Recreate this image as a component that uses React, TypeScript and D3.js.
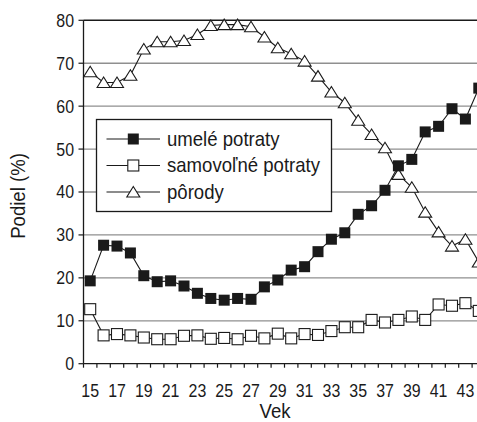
import React from "react";
import * as d3 from "d3";

const ages = d3.range(15, 45);
const tickLabels = [15, 17, 19, 21, 23, 25, 27, 29, 31, 33, 35, 37, 39, 41, 43];
const yTicks = [0, 10, 20, 30, 40, 50, 60, 70, 80];

const umele = [19.3, 27.6, 27.4, 25.8, 20.5, 19.1, 19.3, 18.1, 16.4, 15.2, 14.8, 15.2, 15.0, 17.9, 19.5, 21.8, 22.6, 26.1, 29.0, 30.5, 34.8, 36.8, 40.4, 46.1, 47.6, 54.0, 55.3, 59.4, 57.0, 64.2];
const samovolne = [12.7, 6.6, 6.9, 6.6, 6.1, 5.7, 5.7, 6.5, 6.6, 5.8, 6.0, 5.7, 6.5, 5.9, 7.0, 5.9, 6.9, 6.7, 7.6, 8.5, 8.5, 10.2, 9.6, 10.2, 11.0, 10.2, 13.8, 13.5, 14.1, 12.3];
const porody = [68.0, 65.5, 65.5, 67.2, 73.3, 75.0, 75.0, 75.3, 76.7, 78.8, 79.0, 79.0, 78.5, 76.1, 73.6, 72.2, 70.5, 67.0, 63.3, 60.8, 56.7, 53.4, 50.3, 44.1, 41.1, 35.3, 30.7, 27.4, 29.0, 23.7];

const legendLabels = ["umelé potraty", "samovoľné potraty", "pôrody"];

const W = 477;
const H = 422;
const left = 83.5;
const step = 13.4;
const FONT = "'Liberation Sans', Arial, sans-serif";
const INK = "#1a1a1a";
const SX = 0.885;

const x = d3.scaleBand<number>().domain(ages).range([left, left + ages.length * step]).paddingInner(0).paddingOuter(0);
const y = d3.scaleLinear().domain([0, 80]).range([363.7, 20.3]);
const cx = (a: number) => (x(a) as number) + x.bandwidth() / 2;

const line = d3.line<number>().x((_, i) => cx(ages[i])).y((v) => y(v));

function T({ x: tx, y: ty, size, anchor, rotate, dy, children }: any) {
  const tr = `translate(${tx},${ty})${rotate ? ` rotate(${rotate})` : ""} scale(${SX},1)`;
  return (
    <text transform={tr} dy={dy} textAnchor={anchor || "start"} fontSize={size} fill={INK}>
      {children}
    </text>
  );
}

function Marker({ kind, px, py }: { kind: string; px: number; py: number }) {
  if (kind === "filled") {
    return <rect x={px - 5.5} y={py - 5.5} width={11} height={11} fill={INK} />;
  }
  if (kind === "open") {
    return <rect x={px - 5.5} y={py - 5.5} width={11} height={11} fill="#fff" stroke={INK} strokeWidth={1.1} />;
  }
  const tri = d3.path();
  tri.moveTo(px, py - 5.5);
  tri.lineTo(px + 6.5, py + 5);
  tri.lineTo(px - 6.5, py + 5);
  tri.closePath();
  return <path d={tri.toString()} fill="#fff" stroke={INK} strokeWidth={1.1} />;
}

function Series({ data, kind }: { data: number[]; kind: string }) {
  return (
    <g>
      <path d={line(data) || ""} fill="none" stroke={INK} strokeWidth={1.1} />
      {data.map((v, i) => (
        <Marker key={i} kind={kind} px={cx(ages[i])} py={y(v)} />
      ))}
    </g>
  );
}

export default function App() {
  const legendRows = [139, 165.5, 192];
  const kinds = ["filled", "open", "tri"];
  const xEnd = left + ages.length * step;
  return (
    <svg width={W} height={H} style={{ position: "absolute", left: 0, top: 0, background: "#fff" }} fontFamily={FONT}>
      <rect width={W} height={H} fill="#fff" />
      {yTicks.filter((t) => t > 0 && t < 80).map((t) => (
        <line key={t} x1={left} x2={xEnd} y1={y(t)} y2={y(t)} stroke="#8f8f8f" strokeWidth={1.3} />
      ))}
      <line x1={left} x2={xEnd} y1={y(80)} y2={y(80)} stroke={INK} strokeWidth={1.5} />
      <line x1={left} x2={left} y1={y(80)} y2={y(0)} stroke={INK} strokeWidth={1.3} />
      <line x1={left} x2={xEnd} y1={y(0)} y2={y(0)} stroke={INK} strokeWidth={1.3} />
      {yTicks.map((t) => (
        <g key={t}>
          <line x1={left - 5} x2={left} y1={y(t)} y2={y(t)} stroke={INK} strokeWidth={1.2} />
          <T x={74} y={y(t)} dy="0.36em" anchor="end" size={18}>{t}</T>
        </g>
      ))}
      {ages.map((a) => (
        <line key={a} x1={x(a) as number} x2={x(a) as number} y1={y(0)} y2={y(0) + 4} stroke={INK} strokeWidth={1.2} />
      ))}
      {tickLabels.map((a) => (
        <T key={a} x={cx(a)} y={396.5} anchor="middle" size={18}>{a}</T>
      ))}
      <T x={275} y={418} anchor="middle" size={21}>Vek</T>
      <T x={25} y={196} rotate={-90} anchor="middle" size={21}>Podiel (%)</T>
      <rect x={96.5} y={119.5} width={235} height={92} fill="#fff" stroke={INK} strokeWidth={1.3} />
      {legendLabels.map((lab, i) => (
        <g key={lab}>
          <line x1={106.5} x2={160} y1={legendRows[i]} y2={legendRows[i]} stroke={INK} strokeWidth={1.1} />
          <Marker kind={kinds[i]} px={133.3} py={legendRows[i]} />
          <T x={167} y={legendRows[i] + 6.5} size={21}>{lab}</T>
        </g>
      ))}
      <Series data={porody} kind="tri" />
      <Series data={samovolne} kind="open" />
      <Series data={umele} kind="filled" />
    </svg>
  );
}
